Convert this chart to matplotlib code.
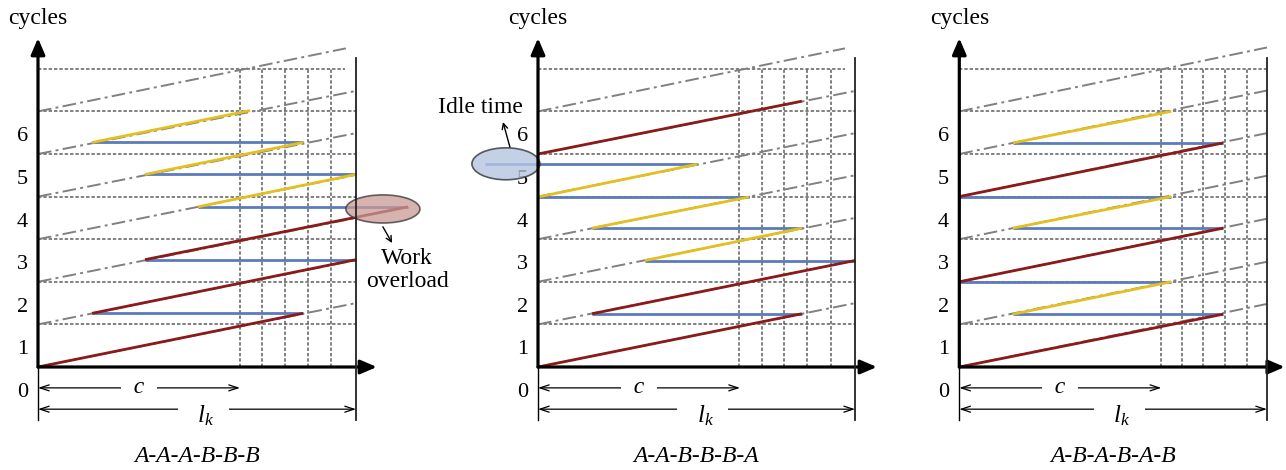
import matplotlib.pyplot as plt
from matplotlib.patches import Ellipse

plt.rcParams['font.family'] = ['Liberation Serif', 'DejaVu Serif']
plt.rcParams['mathtext.fontset'] = 'custom'
plt.rcParams['mathtext.it'] = 'Liberation Serif:italic'
plt.rcParams['mathtext.rm'] = 'Liberation Serif'

# x in station units (c = 9), y in cycles
titles = ['A-A-A-B-B-B', 'A-A-B-B-B-A', 'A-B-A-B-A-B']
cycle_c = 9
levels = [1, 2, 3, 4, 5, 6, 7]
tick_labels = ['0', '1', '2', '3', '4', '5', '6']

# left: A-A-A-B-B-B
left_model = ['A', 'A', 'A', 'B', 'B', 'B']
left_xs = [0, 2.41, 4.77, 7.13, 4.77, 2.41]
left_ys = [0, 1.26, 2.52, 3.76, 4.52, 5.27]
left_xe = [11.81, 14.17, 16.49, 14.17, 11.81, 9.45]
left_ye = [1.26, 2.52, 3.76, 4.52, 5.27, 6.02]
left_walk = [2.41, 4.77, 7.13, 4.77, 2.41]
left_vlines = [9.0, 9.98, 11.0, 12.03, 13.06]
left_border = 14.17
left_dd_xe = [14.17, 14.17, 14.17, 14.17, 14.17, 14.17, 13.72]
left_dd_ye = [1.50, 2.51, 3.50, 4.51, 5.49, 6.48, 7.48]

# middle: A-A-B-B-B-A
mid_model = ['A', 'A', 'B', 'B', 'B', 'A']
mid_xs = [0, 2.41, 4.77, 2.41, 0, 0]
mid_ys = [0, 1.25, 2.50, 3.26, 3.99, 5.00]
mid_xe = [11.76, 14.13, 11.76, 9.40, 7.09, 11.76]
mid_ye = [1.25, 2.50, 3.26, 3.99, 4.76, 6.24]
mid_walk = [2.41, 4.77, 2.41, 0, -2.36]
mid_vlines = [8.96, 9.98, 10.96, 11.99, 13.06]
mid_border = 14.13
mid_dd_xe = [14.13, 14.13, 14.13, 14.13, 14.13, 14.13, 13.68]
mid_dd_ye = [1.50, 2.50, 3.50, 4.50, 5.49, 6.48, 7.48]

# right: A-B-A-B-A-B
right_model = ['A', 'B', 'A', 'B', 'A', 'B']
right_xs = [0, 2.39, 0, 2.39, 0, 2.39]
right_ys = [0, 1.24, 2.0, 3.26, 4.0, 5.26]
right_xe = [11.76, 9.44, 11.76, 9.44, 11.76, 9.44]
right_ye = [1.24, 2.0, 3.26, 4.0, 5.26, 6.0]
right_walk = [2.39, 0, 2.39, 0, 2.39]
right_vlines = [8.99, 9.93, 10.87, 11.84, 12.82]
right_border = 13.71
right_dd_xe = [13.71, 13.71, 13.71, 13.71, 13.71, 13.71, 13.71]
right_dd_ye = [1.48, 2.47, 3.48, 4.49, 5.49, 6.49, 7.50]

panels = [
    dict(model=left_model, xs=left_xs, ys=left_ys, xe=left_xe, ye=left_ye,
         walk=left_walk, vl=left_vlines, border=left_border,
         ddx=left_dd_xe, ddy=left_dd_ye, x0px=38.0, tip=15.1),
    dict(model=mid_model, xs=mid_xs, ys=mid_ys, xe=mid_xe, ye=mid_ye,
         walk=mid_walk, vl=mid_vlines, border=mid_border,
         ddx=mid_dd_xe, ddy=mid_dd_ye, x0px=538.0, tip=15.1),
    dict(model=right_model, xs=right_xs, ys=right_ys, xe=right_xe, ye=right_ye,
         walk=right_walk, vl=right_vlines, border=right_border,
         ddx=right_dd_xe, ddy=right_dd_ye, x0px=959.3, tip=14.5),
]

colors = {'A': '#8b1a1a', 'B': '#e3c020'}
walk_color = '#5b7bbd'
grid_color = '#5e5e5e'
dd_color = '#808080'

W, H = 1286, 470
UX, UY, Y0 = 22.44, 42.6, 367.0
FS = 17

fig = plt.figure(figsize=(W / 100, H / 100), dpi=100)

for p, title in zip(panels, titles):
    ax = fig.add_axes([0, 0, 1, 1])
    ax.set_xlim(-p['x0px'] / UX, (W - p['x0px']) / UX)
    ax.set_ylim((Y0 - H) / UY, Y0 / UY)
    ax.axis('off')
    b = p['border']

    # grid
    for k in levels:
        xend = b if k < 7 else 13.7
        ax.plot([0, xend], [k, k], color=grid_color, lw=1.1, ls=(0, (2.2, 1.3)), zorder=1)
    for v in p['vl']:
        ax.plot([v, v], [0, 7], color=grid_color, lw=1.1, ls=(0, (2.2, 1.3)), zorder=1)

    # dash-dot reference lines
    for k in range(7):
        ax.plot([0, p['ddx'][k]], [k, p['ddy'][k]], color=dd_color, lw=1.4,
                ls=(0, (7, 2.2, 1.5, 2.2)), zorder=2)

    # work and walk-back lines
    n = len(p['model'])
    for i in range(n):
        ax.plot([p['xs'][i], p['xe'][i]], [p['ys'][i], p['ye'][i]],
                color=colors[p['model'][i]], lw=2.0, zorder=4, solid_capstyle='butt')
        if i < n - 1:
            ax.plot([p['xe'][i], p['walk'][i]], [p['ye'][i], p['ye'][i]],
                    color=walk_color, lw=2.0, zorder=3, solid_capstyle='butt')

    # axes with arrows
    ax.annotate('', xy=(0, 7.72), xytext=(0, 0),
                arrowprops=dict(arrowstyle='-|>,head_length=0.7,head_width=0.3',
                                lw=2.3, color='black', shrinkA=0, shrinkB=0,
                                mutation_scale=14), zorder=7)
    ax.annotate('', xy=(p['tip'], 0), xytext=(0, 0),
                arrowprops=dict(arrowstyle='-|>,head_length=0.7,head_width=0.3',
                                lw=2.3, color='black', shrinkA=0, shrinkB=0,
                                mutation_scale=14), zorder=7)
    ax.plot([0, 0], [0, -1.24], color='black', lw=1.0, zorder=7)
    ax.plot([b, b], [7.25, -1.24], color='#222222', lw=1.3, zorder=7)

    # dimension arrows
    dim = dict(arrowstyle='<->,head_length=0.55,head_width=0.18', lw=0.9,
               color='black', shrinkA=0, shrinkB=0, mutation_scale=12)
    ax.annotate('', xy=(cycle_c, -0.49), xytext=(0, -0.49), arrowprops=dim)
    ax.annotate('', xy=(b, -0.99), xytext=(0, -0.99), arrowprops=dim)
    ax.text(cycle_c / 2, -0.47, '  c  ', style='italic', fontsize=FS, ha='center',
            va='center', bbox=dict(boxstyle='square,pad=0.05', fc='white', ec='none'))
    ax.text(0.52 * b, -1.15, '   $l_k$   ', fontsize=FS + 1, ha='center', va='center',
            bbox=dict(boxstyle='square,pad=0.05', fc='white', ec='none'))

    for k, lab in enumerate(tick_labels):
        ax.text(-0.7, k - 0.6, lab, fontsize=FS - 1, ha='center', va='center')
    ax.text(0, 8.19, 'cycles', fontsize=FS, ha='center', va='center')
    ax.text(b / 2, -2.11, title, style='italic', fontsize=FS, ha='center', va='center')

    p['ax'] = ax

# work overload (left panel)
ax = panels[0]['ax']
ax.add_patch(Ellipse((15.37, 3.71), 3.3, 0.66, fc='#c99a94', ec='#333333',
                     lw=1.2, alpha=0.75, zorder=6))
ax.annotate('', xy=(15.78, 2.91), xytext=(15.37, 3.29),
            arrowprops=dict(arrowstyle='->,head_length=0.4,head_width=0.2', lw=1.0,
                            color='black', shrinkA=0, shrinkB=0, mutation_scale=10))
ax.text(16.45, 2.27, 'Work\noverload', fontsize=FS, ha='center', va='center',
        linespacing=1.1)

# idle time (middle panel)
ax = panels[1]['ax']
ax.add_patch(Ellipse((-1.43, 4.77), 3.03, 0.75, fc='#b4c5e0', ec='#333333',
                     lw=1.2, alpha=0.8, zorder=6))
ax.annotate('', xy=(-1.56, 5.75), xytext=(-1.25, 5.16),
            arrowprops=dict(arrowstyle='->,head_length=0.4,head_width=0.2', lw=1.0,
                            color='black', shrinkA=0, shrinkB=0, mutation_scale=10))
ax.text(-2.58, 6.10, 'Idle time', fontsize=FS, ha='center', va='center')

fig.savefig('out.png', dpi=100)
